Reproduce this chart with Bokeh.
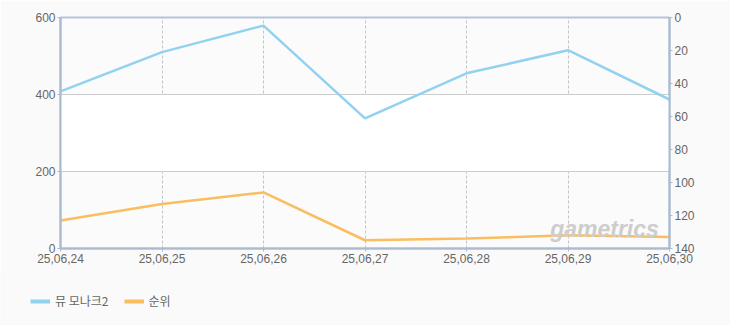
from bokeh.plotting import figure
from bokeh.models import Range1d, LinearAxis, Legend, LegendItem, Label, FixedTicker
from bokeh.layouts import column, row
from bokeh.embed import file_html
from bokeh.resources import INLINE

dates = ["25,06,24", "25,06,25", "25,06,26", "25,06,27", "25,06,28", "25,06,29", "25,06,30"]
game_values = [408, 510, 579, 338, 455, 515, 387]
rank_values = [123, 113, 106, 135, 134, 132, 133]
series_names = ["뮤 모나크2", "순위"]
series_colors = ["#92d2f0", "#f9be60"]

xs = list(range(len(dates)))
bg = "#fafafa"

p = figure(width=730, height=270, output_backend="svg", toolbar_location=None,
           x_range=Range1d(0, len(dates) - 1), y_range=Range1d(0, 600),
           min_border_left=60, min_border_right=61, min_border_top=17, min_border_bottom=22)
p.background_fill_color = "#fbfbfb"
p.border_fill_color = bg
p.outline_line_color = "#b4c6d9"
p.outline_line_width = 2

p.extra_y_ranges = {"rank": Range1d(140, 0)}

axis_col = "#a9bbcf"
lab_col = "#666666"
font = "Liberation Sans"

p.xaxis.ticker = FixedTicker(ticks=xs)
p.xaxis.major_label_overrides = {i: d for i, d in enumerate(dates)}
p.yaxis.ticker = FixedTicker(ticks=[0, 200, 400, 600])

for ax in [p.xaxis[0], p.yaxis[0]]:
    ax.axis_line_color = axis_col
    ax.axis_line_width = 2
    ax.major_tick_line_color = axis_col
    ax.major_tick_in = 0
    ax.major_tick_out = 3
    ax.minor_tick_line_color = None
    ax.major_label_text_color = lab_col
    ax.major_label_text_font = font
    ax.major_label_text_font_size = "12px"
    ax.major_label_standoff = 2

rax = LinearAxis(y_range_name="rank", ticker=FixedTicker(ticks=list(range(0, 141, 20))))
rax.axis_line_color = axis_col
rax.axis_line_width = 2
rax.major_tick_line_color = axis_col
rax.major_tick_in = 0
rax.major_tick_out = 3
rax.minor_tick_line_color = None
rax.major_label_text_color = lab_col
rax.major_label_text_font = font
rax.major_label_text_font_size = "12px"
rax.major_label_standoff = 2
p.add_layout(rax, "right")

p.ygrid.grid_line_color = "#cccccc"
p.ygrid.ticker = FixedTicker(ticks=[0, 200, 400, 600])
p.ygrid.band_fill_color = "white"
p.ygrid.band_fill_alpha = 1
p.xgrid.grid_line_color = "#c4c4c4"
p.xgrid.grid_line_dash = "3 2"
p.xgrid.ticker = FixedTicker(ticks=xs)
p.xgrid.level = "image"

wm = Label(x=544, y=20, x_units="screen", y_units="screen", text="gametrics",
           text_font=font, text_font_style="bold italic", text_font_size="23px",
           text_color="#cdcdcd", text_align="center", text_baseline="middle")
p.add_layout(wm)

p.line(xs, game_values, line_color=series_colors[0], line_width=2.5)
p.line(xs, rank_values, line_color=series_colors[1], line_width=2.5, y_range_name="rank")

# legend strip below the chart
q = figure(width=730, height=55, output_backend="svg", toolbar_location=None,
           x_range=Range1d(0, 1), y_range=Range1d(0, 1),
           x_axis_type=None, y_axis_type=None,
           min_border=0, min_border_left=0, min_border_right=0, min_border_top=0, min_border_bottom=0)
q.grid.visible = False
q.outline_line_color = None
q.background_fill_color = bg
q.border_fill_color = bg
items = []
for name, col in zip(series_names, series_colors):
    r = q.line([-10, -9], [-10, -9], line_color=col, line_width=4)
    items.append(LegendItem(label=name, renderers=[r]))
legend = Legend(items=items, orientation="horizontal", location=(30, 16),
                background_fill_alpha=0, border_line_alpha=0,
                label_text_font="Noto Sans CJK KR", label_text_font_size="12px",
                label_text_color=lab_col, glyph_width=20, glyph_height=12,
                spacing=15, label_standoff=5, margin=0, padding=0)
q.add_layout(legend)

layout = column(row(p), row(q), spacing=0)
open("out.html", "w").write(file_html(layout, INLINE))
